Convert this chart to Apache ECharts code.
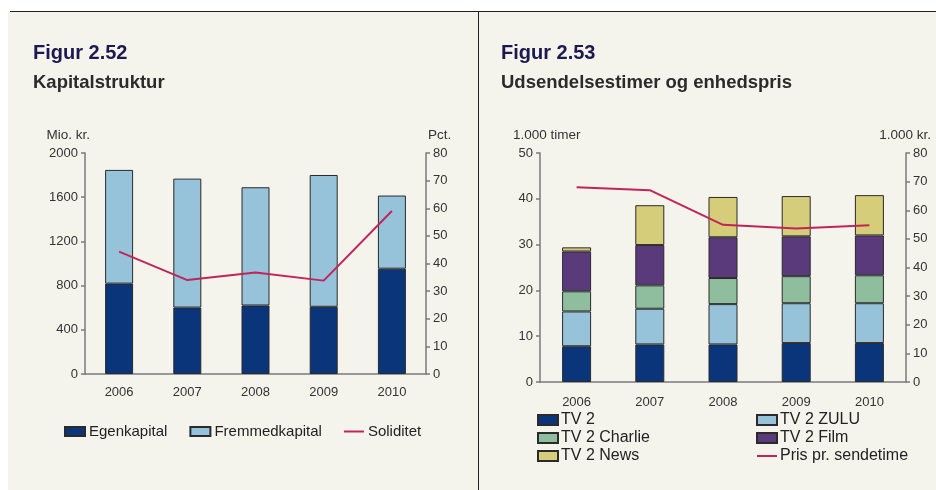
<!DOCTYPE html>
<html>
<head>
  <meta charset="utf-8">
  <title>Figur 2.52 / 2.53</title>
  <script src="https://cdn.jsdelivr.net/npm/echarts@6/dist/echarts.min.js"></script>
  <style>
    html, body { margin: 0; padding: 0; background: #fff; }
  </style>
</head>
<body>
  <div id="chart" style="width: 936px;height:490px;"></div>
  <script>
    // Figur 2.52 - Kapitalstruktur
    const years = ['2006', '2007', '2008', '2009', '2010'];
    const egenkapital = [818, 601, 620, 608, 953];
    const fremmedkapital = [1029, 1167, 1070, 1193, 662];
    const soliditet = [44.3, 34.0, 36.7, 33.8, 59.0];

    // Figur 2.53 - Udsendelsestimer og enhedspris
    const tv2 = [7.8, 8.2, 8.2, 8.5, 8.5];
    const tv2Zulu = [7.6, 7.8, 8.8, 8.7, 8.7];
    const tv2Charlie = [4.4, 5.1, 5.7, 5.9, 6.1];
    const tv2Film = [8.7, 8.8, 8.9, 8.7, 8.7];
    const tv2News = [0.9, 8.7, 8.8, 8.8, 8.8];
    const pris = [68.0, 67.0, 54.9, 53.6, 54.8];

    const font = 'Liberation Sans, Arial, sans-serif';
    const textCol = '#333';
    const axisCol = '#7a7a7a';
    const lineCol = '#c2245a';
    const border = { borderColor: '#2a2a2a', borderWidth: 1 };

    function yAx(grid, max, interval, right) {
      return {
        type: 'value', gridIndex: grid, min: 0, max: max, interval: interval,
        position: right ? 'right' : 'left',
        splitLine: { show: false },
        axisLine: { show: true, lineStyle: { color: axisCol, width: 1.5 } },
        axisTick: { show: true, length: 4, lineStyle: { color: axisCol, width: 1.5 } },
        axisLabel: { color: textCol, fontSize: 13, fontFamily: font, margin: 7, formatter: v => String(v) }
      };
    }
    function xAx(grid, margin) {
      return {
        type: 'category', gridIndex: grid, data: years,
        axisLine: { lineStyle: { color: axisCol, width: 1.5 } },
        axisTick: { length: 4, lineStyle: { color: axisCol, width: 1.5 } },
        axisLabel: { color: textCol, fontSize: 13, fontFamily: font, margin: margin }
      };
    }
    function axText(txt, x, align) {
      return {
        type: 'text', x: x, y: 135,
        style: { text: txt, align: align, verticalAlign: 'middle', fontSize: 13.5, fontFamily: font, fill: textCol }
      };
    }
    // legend entries: bars as plain rects, lines as a thin stroke
    const lineIcon = 'path://M0,0 L20,0 L20,2 L0,2 Z';
    function leg(names, lines) {
      return names.map(n => ({ name: n, icon: lines.indexOf(n) >= 0 ? lineIcon : 'rect' }));
    }

    let myChart = echarts.init(document.getElementById('chart'));
    let option = {
      backgroundColor: '#fff',
      animation: false,
      textStyle: { fontFamily: font },
      graphic: [
        { type: 'rect', z: -10, shape: { x: 8, y: 11, width: 928, height: 479 }, style: { fill: '#f5f4ec' } },
        { type: 'line', shape: { x1: 10, y1: 11.5, x2: 936, y2: 11.5 }, style: { stroke: '#222', lineWidth: 1 } },
        { type: 'line', shape: { x1: 478.5, y1: 11, x2: 478.5, y2: 490 }, style: { stroke: '#222', lineWidth: 1 } },
        axText('Mio. kr.', 90, 'right'),
        axText('Pct.', 428, 'left'),
        axText('1.000 timer', 513, 'left'),
        axText('1.000 kr.', 931, 'right')
      ],
      title: [
        {
          text: 'Figur 2.52', subtext: 'Kapitalstruktur', left: 33, top: 43, padding: 0, itemGap: 10,
          textStyle: { fontSize: 20, fontWeight: 'bold', color: '#1d1850', fontFamily: font },
          subtextStyle: { fontSize: 18.5, fontWeight: 'bold', color: '#2b2b2b', fontFamily: font }
        },
        {
          text: 'Figur 2.53', subtext: 'Udsendelsestimer og enhedspris', left: 501, top: 43, padding: 0, itemGap: 10,
          textStyle: { fontSize: 20, fontWeight: 'bold', color: '#1d1850', fontFamily: font },
          subtextStyle: { fontSize: 18.5, fontWeight: 'bold', color: '#2b2b2b', fontFamily: font }
        }
      ],
      legend: [
        {
          data: leg(['Egenkapital', 'Fremmedkapital', 'Soliditet'], ['Soliditet']),
          left: 64, top: 424, padding: 0, itemWidth: 20, itemHeight: 9, itemGap: 22, symbolKeepAspect: true,
          textStyle: { fontSize: 15, lineHeight: 15, color: '#222', fontFamily: font, padding: [0, 0, 0, -1] }
        },
        {
          data: leg(['TV 2', 'TV 2 Charlie', 'TV 2 News'], []), orient: 'vertical',
          left: 537, top: 412, padding: 0, itemWidth: 20, itemHeight: 10, itemGap: 2, symbolKeepAspect: true,
          textStyle: { fontSize: 16, lineHeight: 16, color: '#222', fontFamily: font, padding: [0, 0, 0, -2] }
        },
        {
          data: leg(['TV 2 ZULU', 'TV 2 Film', 'Pris pr. sendetime'], ['Pris pr. sendetime']), orient: 'vertical',
          left: 756, top: 412, padding: 0, itemWidth: 20, itemHeight: 10, itemGap: 2, symbolKeepAspect: true,
          textStyle: { fontSize: 16, lineHeight: 16, color: '#222', fontFamily: font, padding: [0, 0, 0, -2] }
        }
      ],
      grid: [
        { left: 85, right: 510, top: 153, bottom: 116 },
        { left: 540, right: 30, top: 153, bottom: 108 }
      ],
      xAxis: [xAx(0, 12), xAx(1, 14)],
      yAxis: [yAx(0, 2000, 400, false), yAx(0, 80, 10, true), yAx(1, 50, 10, false), yAx(1, 80, 10, true)],
      series: [
        { name: 'Egenkapital', type: 'bar', stack: 'k', barWidth: 28, xAxisIndex: 0, yAxisIndex: 0, data: egenkapital, itemStyle: Object.assign({ color: '#0b357a' }, border) },
        { name: 'Fremmedkapital', type: 'bar', stack: 'k', xAxisIndex: 0, yAxisIndex: 0, data: fremmedkapital, itemStyle: Object.assign({ color: '#96c3da' }, border) },
        { name: 'Soliditet', type: 'line', xAxisIndex: 0, yAxisIndex: 1, data: soliditet, symbol: 'none', lineStyle: { color: lineCol, width: 2 }, itemStyle: { color: lineCol } },
        { name: 'TV 2', type: 'bar', stack: 't', barWidth: 29, xAxisIndex: 1, yAxisIndex: 2, data: tv2, itemStyle: Object.assign({ color: '#0b357a' }, border) },
        { name: 'TV 2 ZULU', type: 'bar', stack: 't', xAxisIndex: 1, yAxisIndex: 2, data: tv2Zulu, itemStyle: Object.assign({ color: '#96c3da' }, border) },
        { name: 'TV 2 Charlie', type: 'bar', stack: 't', xAxisIndex: 1, yAxisIndex: 2, data: tv2Charlie, itemStyle: Object.assign({ color: '#8fbe9f' }, border) },
        { name: 'TV 2 Film', type: 'bar', stack: 't', xAxisIndex: 1, yAxisIndex: 2, data: tv2Film, itemStyle: Object.assign({ color: '#5b3a7b' }, border) },
        { name: 'TV 2 News', type: 'bar', stack: 't', xAxisIndex: 1, yAxisIndex: 2, data: tv2News, itemStyle: Object.assign({ color: '#d6cd7a' }, border) },
        { name: 'Pris pr. sendetime', type: 'line', xAxisIndex: 1, yAxisIndex: 3, data: pris, symbol: 'none', lineStyle: { color: lineCol, width: 2 }, itemStyle: { color: lineCol } }
      ]
    };
    myChart.setOption(option);
  </script>
</body>
</html>
